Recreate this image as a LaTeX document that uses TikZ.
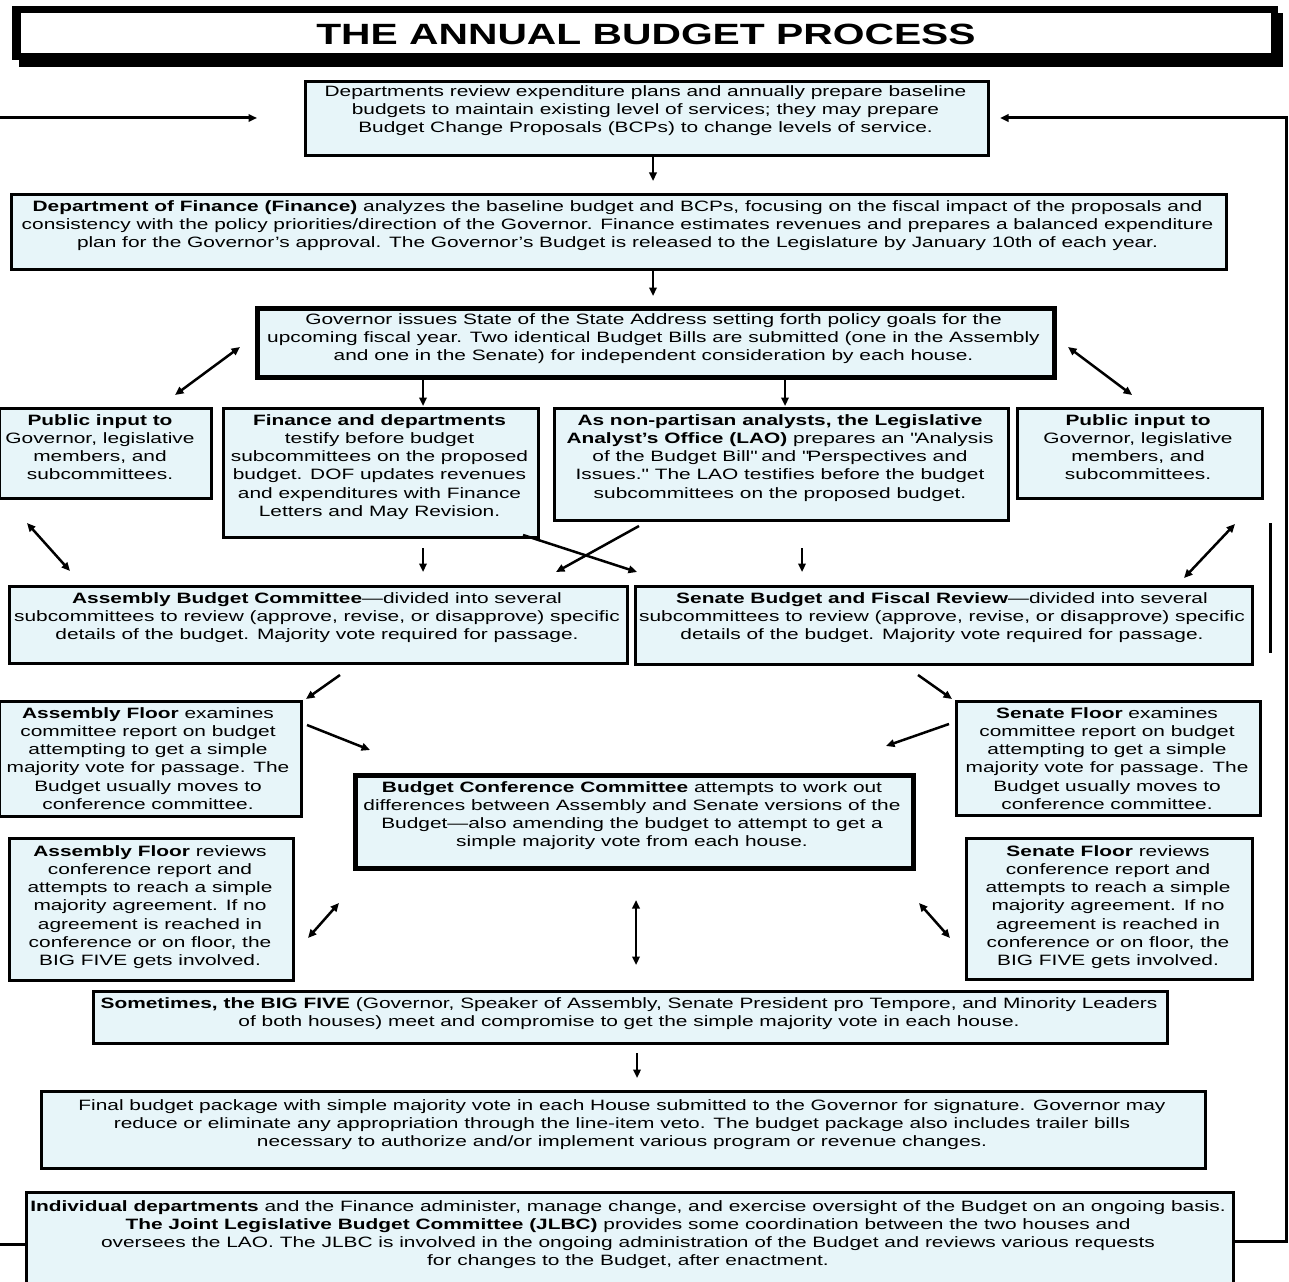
\documentclass[tikz,border=0pt]{standalone}
\usepackage{fontspec}
\setmainfont{Liberation Sans}[FakeStretch=1.392]
\usetikzlibrary{arrows.meta}
\definecolor{boxfill}{RGB}{231,245,249}
\tikzset{
  box/.style={draw=black, line width=2.8pt, fill=boxfill, anchor=north west, inner sep=0pt},
  thickbox/.style={box, line width=4.5pt},
  txt/.style={anchor=north, inner sep=0pt, align=center, font=\fontsize{15}{18.2}\selectfont},
  tip/.tip={Triangle[length=8.5pt,width=7.5pt]},
  arr/.style={line width=2.5pt, -tip},
  darr/.style={line width=2.5pt, tip-tip},
  loopline/.style={line width=3pt, line join=miter},
}
\newcommand{\fl}{\rule{0pt}{12pt}}
\newcommand{\qq}{\textquotedbl}
\begin{document}
\begin{tikzpicture}[x=1pt,y=-1pt]
\useasboundingbox (0,0) rectangle (1289,1281);
\clip (0,0) rectangle (1289,1281);
% title
\fill[black] (12,6) rectangle (1278,60);
\fill[black] (19,13) rectangle (1283,67);
\fill[white] (21,13) rectangle (1271,53);
\node[anchor=base, inner sep=0pt, font=\fontsize{29.3}{32}\selectfont\bfseries] (title) at (646,45) {THE ANNUAL BUDGET PROCESS};

% boxes
\node[box, minimum width=683pt, minimum height=74pt] (b1) at (304,80) {};
\node[txt] (t1) at (645.5,84) {\fl Departments review expenditure plans and annually prepare baseline\\budgets to maintain existing level of services; they may prepare\\Budget Change Proposals (BCPs) to change levels of service.};

\node[box, minimum width=1215pt, minimum height=75pt] (b2) at (10,193) {};
\node[txt] (t2) at (617.5,199) {\fl\textbf{Department of Finance (Finance)} analyzes the baseline budget and BCPs, focusing on the fiscal impact of the proposals and\\consistency with the policy priorities/direction of the Governor.  Finance estimates revenues and prepares a balanced expenditure\\plan for the Governor's approval.  The Governor's Budget is released to the Legislature by January 10th of each year.};

\node[thickbox, minimum width=797pt, minimum height=69pt] (b3) at (255,306) {};
\node[txt] (t3) at (653.5,312) {\fl Governor issues State of the State Address setting forth policy goals for the\\upcoming fiscal year.  Two identical Budget Bills are submitted (one in the Assembly\\and one in the Senate) for independent consideration by each house.};

\node[box, minimum width=212pt, minimum height=90pt] (b4) at (-2,407) {};
\node[txt] (t4) at (100,413) {\fl\textbf{Public input to}\\Governor, legislative\\members, and\\subcommittees.};

\node[box, minimum width=315pt, minimum height=129pt] (b5) at (222,407) {};
\node[txt] (t5) at (379.5,413) {\fl\textbf{Finance and departments}\\testify before budget\\subcommittees on the proposed\\budget.  DOF updates revenues\\and expenditures with Finance\\Letters and May Revision.};

\node[box, minimum width=454pt, minimum height=112pt] (b6) at (553,407) {};
\node[txt] (t6) at (780,413) {\fl\textbf{As non-partisan analysts, the Legislative}\\\textbf{Analyst's Office (LAO)} prepares an \qq Analysis\\of the Budget Bill\qq{} and \qq Perspectives and\\Issues.\qq{}  The LAO testifies before the budget\\subcommittees on the proposed budget.};

\node[box, minimum width=245pt, minimum height=90pt] (b7) at (1016,407) {};
\node[txt] (t7) at (1138,413) {\fl\textbf{Public input to}\\Governor, legislative\\members, and\\subcommittees.};

\node[box, minimum width=618pt, minimum height=77pt] (b8) at (8,585) {};
\node[txt] (t8) at (317,591) {\fl\textbf{Assembly Budget Committee}---divided into several\\subcommittees to review (approve, revise, or disapprove) specific\\details of the budget.  Majority vote required for passage.};

\node[box, minimum width=617pt, minimum height=78pt] (b9) at (634,585) {};
\node[txt] (t9) at (942,591) {\fl\textbf{Senate Budget and Fiscal Review}---divided into several\\subcommittees to review (approve, revise, or disapprove) specific\\details of the budget.  Majority vote required for passage.};

\node[box, minimum width=302pt, minimum height=115pt] (b10) at (-2,700) {};
\node[txt] (t10) at (148,706) {\fl\textbf{Assembly Floor} examines\\committee report on budget\\attempting to get a simple\\majority vote for passage.  The\\Budget usually moves to\\conference committee.};

\node[box, minimum width=304pt, minimum height=114pt] (b11) at (955,700) {};
\node[txt] (t11) at (1107,706) {\fl\textbf{Senate Floor} examines\\committee report on budget\\attempting to get a simple\\majority vote for passage.  The\\Budget usually moves to\\conference committee.};

\node[thickbox, minimum width=558pt, minimum height=93pt] (b12) at (353,773) {};
\node[txt] (t12) at (632,780) {\fl\textbf{Budget Conference Committee} attempts to work out\\differences between Assembly and Senate versions of the\\Budget---also amending the budget to attempt to get a\\simple majority vote from each house.};

\node[box, minimum width=284pt, minimum height=142pt] (b13) at (8,837) {};
\node[txt] (t13) at (150,844) {\fl\textbf{Assembly Floor} reviews\\conference report and\\attempts to reach a simple\\majority agreement.  If no\\agreement is reached in\\conference or on floor, the\\BIG FIVE gets involved.};

\node[box, minimum width=286pt, minimum height=141pt] (b14) at (965,837) {};
\node[txt] (t14) at (1108,844) {\fl\textbf{Senate Floor} reviews\\conference report and\\attempts to reach a simple\\majority agreement.  If no\\agreement is reached in\\conference or on floor, the\\BIG FIVE gets involved.};

\node[box, minimum width=1074pt, minimum height=52pt] (b15) at (92,990) {};
\node[txt] (t15) at (629,996) {\fl\textbf{Sometimes, the BIG FIVE} (Governor, Speaker of Assembly, Senate President pro Tempore, and Minority Leaders\\of both houses) meet and compromise to get the simple majority vote in each house.};

\node[box, minimum width=1164pt, minimum height=77pt] (b16) at (40,1090) {};
\node[txt] (t16) at (622,1098) {\fl Final budget package with simple majority vote in each House submitted to the Governor for signature.  Governor may\\reduce or eliminate any appropriation through the line-item veto.  The budget package also includes trailer bills\\necessary to authorize and/or implement various program or revenue changes.};

\node[box, minimum width=1207pt, minimum height=110pt] (b17) at (25,1191) {};
\node[txt] (t17) at (628,1199) {\fl\textbf{Individual departments} and the Finance administer, manage change, and exercise oversight of the Budget on an ongoing basis.\\\textbf{The Joint Legislative Budget Committee (JLBC)} provides some coordination between the two houses and\\oversees the LAO.  The JLBC is involved in the ongoing administration of the Budget and reviews various requests\\for changes to the Budget, after enactment.};

% connector end points
\coordinate (a1s) at (653,155); \coordinate (a1e) at (653,181);
\coordinate (a2s) at (653,269); \coordinate (a2e) at (653,296);
\coordinate (a3s) at (240,347); \coordinate (a3e) at (175,395);
\coordinate (a4s) at (423,376); \coordinate (a4e) at (423,406);
\coordinate (a5s) at (785,376); \coordinate (a5e) at (785,406);
\coordinate (a6s) at (1068,347); \coordinate (a6e) at (1132,395);
\coordinate (a7s) at (27,523); \coordinate (a7e) at (70,571);
\coordinate (a8s) at (423,548); \coordinate (a8e) at (423,572);
\coordinate (a9s) at (523,535); \coordinate (a9e) at (637,572);
\coordinate (a10s) at (639,526); \coordinate (a10e) at (556,572);
\coordinate (a11s) at (802,548); \coordinate (a11e) at (802,572);
\coordinate (a12s) at (1235,524); \coordinate (a12e) at (1184,578);
\coordinate (a13s) at (340,675); \coordinate (a13e) at (306,699);
\coordinate (a14s) at (918,675); \coordinate (a14e) at (952,699);
\coordinate (a15s) at (307,725); \coordinate (a15e) at (370,750);
\coordinate (a16s) at (949,724); \coordinate (a16e) at (886,746);
\coordinate (a17s) at (339,903); \coordinate (a17e) at (308,938);
\coordinate (a18s) at (919,903); \coordinate (a18e) at (950,938);
\coordinate (a19s) at (636,900); \coordinate (a19e) at (636,965);
\coordinate (a20s) at (637,1053); \coordinate (a20e) at (637,1078);
\coordinate (r1) at (1232,1241); \coordinate (r2) at (1286,1241);
\coordinate (r3) at (1286,118); \coordinate (r4) at (1000,118);
\coordinate (l1) at (25,1244); \coordinate (l2) at (0,1244);
\coordinate (l3) at (0,118); \coordinate (l4) at (257,118);
\coordinate (v1) at (1270,523); \coordinate (v2) at (1270,653);

\draw[arr] (a1s) -- (a1e);
\draw[arr] (a2s) -- (a2e);
\draw[darr] (a3s) -- (a3e);
\draw[arr] (a4s) -- (a4e);
\draw[arr] (a5s) -- (a5e);
\draw[darr] (a6s) -- (a6e);
\draw[darr] (a7s) -- (a7e);
\draw[arr] (a8s) -- (a8e);
\draw[arr] (a9s) -- (a9e);
\draw[arr] (a10s) -- (a10e);
\draw[arr] (a11s) -- (a11e);
\draw[darr] (a12s) -- (a12e);
\draw[arr] (a13s) -- (a13e);
\draw[arr] (a14s) -- (a14e);
\draw[arr] (a15s) -- (a15e);
\draw[arr] (a16s) -- (a16e);
\draw[darr] (a17s) -- (a17e);
\draw[darr] (a18s) -- (a18e);
\draw[darr] (a19s) -- (a19e);
\draw[arr] (a20s) -- (a20e);
\draw[loopline, -tip] (r1) -- (r2) -- (r3) -- (r4);
\draw[loopline] (l1) -- (l2);
\draw[loopline, -tip] (l3) -- (l4);
\draw[line width=3pt] (v1) -- (v2);
\end{tikzpicture}
\end{document}
